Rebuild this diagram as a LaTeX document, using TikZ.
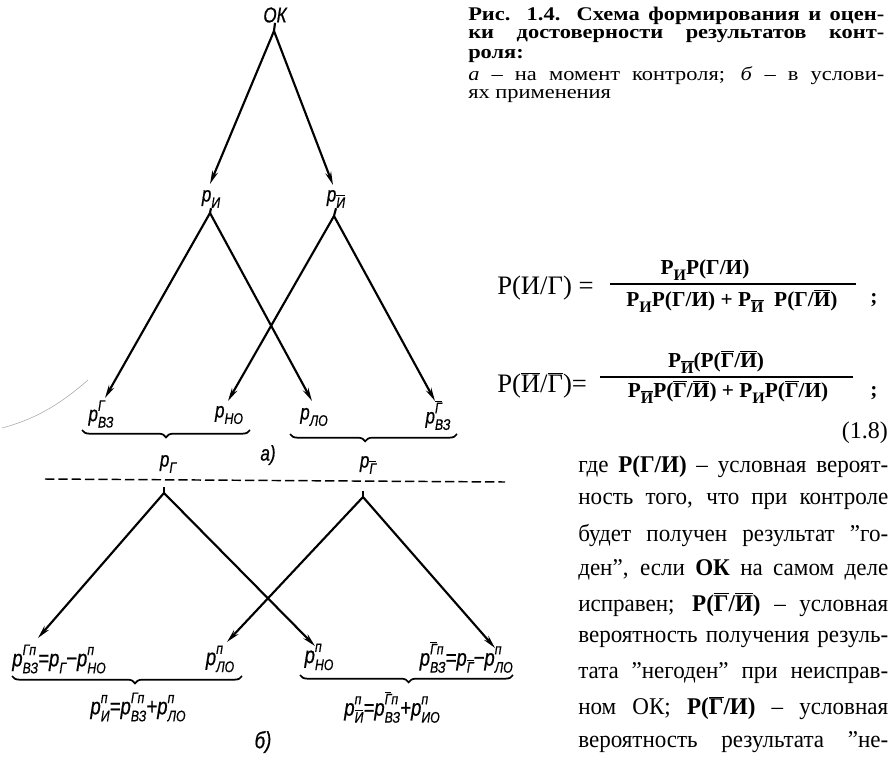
\documentclass[tikz,border=0pt]{standalone}
\usepackage{fontspec}
\setmainfont{Liberation Serif}
\newfontfamily\gostfont[FakeStretch=0.8,FakeBold=0.6]{Liberation Sans}
\newfontfamily\capfont[FakeStretch=1.16]{Liberation Serif}
\newfontfamily\bodyfont[FakeStretch=0.96]{Liberation Serif}
\usetikzlibrary{arrows.meta,decorations.pathreplacing}
\newcommand\fsz[1]{\fontsize{#1}{#1}\selectfont}
\newcommand\gm{\gostfont\itshape\fsz{16pt}}
\newcommand\gs{\gostfont\itshape\fsz{11.5pt}}
\newcommand\gmb{\gostfont\itshape\fsz{17.5pt}}
\newcommand\ob[1]{$\overline{\hbox{#1}}$}
\newcommand\Ps[1]{p\raisebox{-0.3em}{\gs #1}}
\newcommand\Pss[2]{p\ooalign{\raisebox{0.48em}{\gs #2}\cr\raisebox{-0.3em}{\gs #1}\cr}}
\newcommand\fsub[1]{\raisebox{-0.3em}{\fsz{12pt}#1}}
\begin{document}
\begin{tikzpicture}[x=0.75pt,y=-0.75pt,
  lbl/.style={inner sep=0pt,font=\gm},
  lblb/.style={inner sep=0pt,font=\gmb},
  arr/.style={line width=1.6pt,-{Stealth[length=10pt,width=4.5pt]}},
  stub/.style={line width=1.6pt},
  brc/.style={line width=1.3pt,decorate,decoration={brace,mirror,amplitude=5.5pt}},
  txt/.style={inner sep=0pt,anchor=west},
  capb/.style={txt,font=\capfont\bfseries\fsz{14.5pt}},
  capr/.style={txt,font=\capfont\fsz{14.5pt}},
  bod/.style={txt,font=\bodyfont\fsz{18pt}},
  frm/.style={inner sep=0pt,font=\bfseries\fsz{16pt}}]
\useasboundingbox (0,0) rectangle (891,756);

% ---------- tree a ----------
\node[lbl] (ok) at (275,15) {ОК};
\coordinate (vok) at (274,31);
\draw[stub] (ok.south) -- (vok);
\node[lbl] (pi) at (211,199) {\Ps{И}};
\node[lbl] (pj) at (336,199) {\Ps{\ob{И}}};
\coordinate (tpi) at (210,184);
\coordinate (tpj) at (333,185);
\draw[arr] (vok) -- (tpi);
\draw[arr] (vok) -- (tpj);
\coordinate (vpi) at (210,213);
\coordinate (vpj) at (334,216);
\draw[stub] (pi.south) -- (vpi);
\draw[stub] (pj.south) -- (vpj);
\node[lbl] (vzg) at (101,414) {\Pss{ВЗ}{Г}};
\node[lbl] (no) at (229,415) {\Ps{НО}};
\node[lbl] (lo) at (314,417) {\Ps{ЛО}};
\node[lbl] (vzgb) at (438,415) {\Pss{ВЗ}{\ob{Г}}};
\coordinate (tvzg) at (105,398);
\coordinate (tlo) at (312,401);
\coordinate (tno) at (228,401);
\coordinate (tvzgb) at (435,401);
\draw[arr] (vpi) -- (tvzg);
\draw[arr] (vpi) -- (tlo);
\draw[arr] (vpj) -- (tno);
\draw[arr] (vpj) -- (tvzgb);
\coordinate (b1l) at (82,430);
\coordinate (b1r) at (250,430);
\coordinate (b2l) at (290,434);
\coordinate (b2r) at (457,434);
\draw[brc,decoration={aspect=0.5}] (b1l) -- (b1r);
\draw[brc,decoration={aspect=0.45}] (b2l) -- (b2r);
\node[lbl] (pg) at (168,464) {\Ps{Г}};
\node[lbl] (pgb) at (368,465) {\Ps{\ob{Г}}};
\node[lbl] (la) at (268,455) {а)};
\coordinate (d1) at (45,479);
\coordinate (d2) at (505,482);
\draw[line width=1.1pt,dash pattern=on 7pt off 3pt] (d1) -- (d2);

% scan mark
\coordinate (m1) at (2,428);
\coordinate (m2) at (88,380);
\draw[gray!70,line width=0.4pt] (m1) .. controls (40,418) and (65,400) .. (m2);

% ---------- tree b ----------
\coordinate (sl) at (164,487);
\coordinate (vl) at (164,493);
\coordinate (sr) at (363,491);
\coordinate (vr) at (363,497);
\draw[stub] (sl) -- (vl);
\draw[stub] (sr) -- (vr);
\coordinate (tl1) at (38,638);
\coordinate (tl2) at (315,646);
\coordinate (tr1) at (227,642);
\coordinate (tr2) at (495,648);
\draw[arr] (vl) -- (tl1);
\draw[arr] (vl) -- (tl2);
\draw[arr] (vr) -- (tr1);
\draw[arr] (vr) -- (tr2);
\node[lblb,anchor=west] (q1) at (12,659) {\Pss{ВЗ}{Гп}=\Ps{Г}−\Pss{НО}{п}};
\node[lblb] (q2) at (220,659) {\Pss{ЛО}{п}};
\node[lblb] (q3) at (319,657) {\Pss{НО}{п}};
\node[lblb,anchor=east] (q4) at (513,657) {\Pss{ВЗ}{\ob{Г}п}=\Ps{\ob{Г}}−\Pss{ЛО}{п}};
\coordinate (b3l) at (12,676);
\coordinate (b3r) at (242,676);
\coordinate (b4l) at (300,675);
\coordinate (b4r) at (513,675);
\draw[brc,decoration={aspect=0.535}] (b3l) -- (b3r);
\draw[brc,decoration={aspect=0.51}] (b4l) -- (b4r);
\node[lblb] (s1) at (138,707) {\Pss{И}{п}=\Pss{ВЗ}{Гп}+\Pss{ЛО}{п}};
\node[lblb] (s2) at (392,707) {\Pss{\ob{И}}{п}=\Pss{ВЗ}{\ob{Г}п}+\Pss{ИО}{п}};
\node[lblb] (lb) at (263,742) {б)};

% ---------- caption ----------
\node[capb] (c1) at (468,16) {\makebox[312pt][s]{Рис. 1.4. Схема формирования и оцен-}};
\node[capb] (c2) at (468,36) {\makebox[312pt][s]{ки достоверности результатов конт-}};
\node[capb] (c3) at (468,56) {роля:};
\node[capr] (c4) at (468,76) {\makebox[312pt][s]{\textit{а} – на момент контроля; \textit{б} – в услови-}};
\node[capr] (c5) at (468,96.5) {ях применения};

% ---------- formulas ----------
\node[txt,font=\fsz{20pt}] (f1l) at (497,288) {Р(И/Г) =};
\node[frm] (f1n) at (705,270) {Р\fsub{И}Р(Г/И)};
\node[frm] (f1d) at (732,301) {Р\fsub{И}Р(Г/И) + Р\fsub{\ob{И}}\ \ Р(Г/\ob{И})};
\coordinate (f1a) at (610,284);
\coordinate (f1b) at (856,284);
\draw[line width=0.8pt] (f1a) -- (f1b);
\node[frm] (f1s) at (874,300) {;};

\node[txt,font=\fsz{20pt}] (f2l) at (497,385) {Р(\ob{И}/\ob{Г})=};
\node[frm] (f2n) at (716,362) {Р\fsub{\ob{И}}(Р(\ob{Г}/\ob{И})};
\node[frm] (f2d) at (728,392) {Р\fsub{\ob{И}}Р(\ob{Г}/\ob{И}) + Р\fsub{И}Р(\ob{Г}/И)};
\coordinate (f2a) at (600,377);
\coordinate (f2b) at (853,377);
\draw[line width=0.8pt] (f2a) -- (f2b);
\node[frm] (f2s) at (874,393) {;};
\node[inner sep=0pt,anchor=east,font=\fsz{18pt}] (eqn) at (888,433) {(1.8)};

% ---------- body ----------
\node[bod] (t1) at (578,467) {\makebox[232.5pt][s]{где \textbf{Р(Г/И)} – условная вероят-}};
\node[bod] (t2) at (578,501.4) {\makebox[232.5pt][s]{ность того, что при контроле}};
\node[bod] (t3) at (578,535.8) {\makebox[232.5pt][s]{будет получен результат ”го-}};
\node[bod] (t4) at (578,570.2) {\makebox[232.5pt][s]{ден”, если \textbf{ОК} на самом деле}};
\node[bod] (t5) at (578,604.6) {\makebox[232.5pt][s]{исправен; \textbf{Р(\ob{Г}/\ob{И})} – условная}};
\node[bod] (t6) at (578,639) {\makebox[232.5pt][s]{вероятность получения резуль-}};
\node[bod] (t7) at (578,673.4) {\makebox[232.5pt][s]{тата ”негоден” при неисправ-}};
\node[bod] (t8) at (578,707.8) {\makebox[232.5pt][s]{ном ОК; \textbf{Р(\ob{Г}/И)} – условная}};
\node[bod] (t9) at (578,742.2) {\makebox[232.5pt][s]{вероятность результата ”не-}};
\end{tikzpicture}
\end{document}
